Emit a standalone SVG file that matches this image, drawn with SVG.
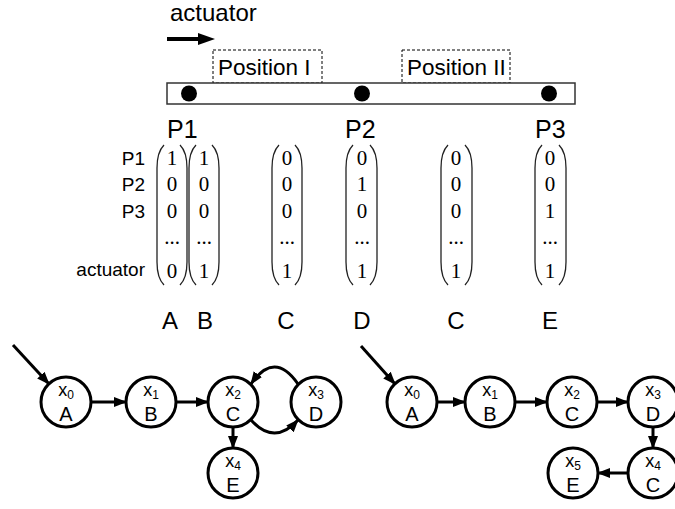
<svg xmlns="http://www.w3.org/2000/svg" width="675" height="509" viewBox="0 0 675 509">
<style>
.s{font-family:"Liberation Sans",Arial,sans-serif;fill:#000}
.m{font-family:"Liberation Serif","Times New Roman",serif;font-size:21px;text-anchor:middle;fill:#000}
.lbl{font-family:"Liberation Sans",Arial,sans-serif;font-size:19px;text-anchor:end}
.col{font-family:"Liberation Sans",Arial,sans-serif;font-size:24px;text-anchor:middle}
.par{fill:none;stroke:#222;stroke-width:1.3}
.node circle{fill:#fff;stroke:#000;stroke-width:3}
.node text{font-family:"Liberation Sans",Arial,sans-serif;text-anchor:middle}
.e{fill:none;stroke:#000;stroke-width:3;marker-end:url(#ah)}
.dash{fill:none;stroke:#000;stroke-width:1;stroke-dasharray:3,2}
</style>
<defs>
<marker id="ah" markerUnits="userSpaceOnUse" markerWidth="13" markerHeight="13" viewBox="0 0 13 13" refX="12" refY="6.5" orient="auto">
<path d="M0,1.5 L13,6.5 L0,11.5 Z" fill="#000"/>
</marker>
</defs>
<rect width="675" height="509" fill="#fff"/>

<g id="top">
<text class="s" x="170" y="21" font-size="24">actuator</text>
<line x1="167" y1="39" x2="200" y2="39" stroke="#000" stroke-width="4"/>
<polygon points="198,33 215,39 198,45" fill="#000"/>
<rect class="dash" x="213" y="50" width="109" height="33"/>
<rect class="dash" x="402" y="50" width="108" height="33"/>
<text class="s" x="218" y="75" font-size="22.5">Position I</text>
<text class="s" x="407" y="75" font-size="22.5">Position II</text>
<rect x="167" y="83" width="408" height="21" fill="#fff" stroke="#333" stroke-width="1.5"/>
<circle cx="189" cy="93.5" r="8"/>
<circle cx="362" cy="93.5" r="8"/>
<circle cx="549" cy="93.5" r="8"/>
<text class="s" x="167" y="138" font-size="25">P1</text>
<text class="s" x="345" y="138" font-size="25">P2</text>
<text class="s" x="535" y="138" font-size="25">P3</text>
</g>

<g id="row-labels">
<text class="lbl" x="145" y="165">P1</text>
<text class="lbl" x="145" y="191">P2</text>
<text class="lbl" x="145" y="218">P3</text>
<text class="lbl" x="145" y="276">actuator</text>
</g>

<g id="matrices">
<path class="par" d="M164,145 Q157,152 157,168 L157,262 Q157,278 164,285 M180,145 Q187,152 187,168 L187,262 Q187,278 180,285"/>
<text class="m" x="172" y="165">1</text><text class="m" x="172" y="191">0</text><text class="m" x="172" y="218">0</text><text class="m" x="172" y="244">...</text><text class="m" x="172" y="278">0</text>
<path class="par" d="M196,145 Q189,152 189,168 L189,262 Q189,278 196,285 M212,145 Q219,152 219,168 L219,262 Q219,278 212,285"/>
<text class="m" x="204" y="165">1</text><text class="m" x="204" y="191">0</text><text class="m" x="204" y="218">0</text><text class="m" x="204" y="244">...</text><text class="m" x="204" y="278">1</text>
<path class="par" d="M279,145 Q272,152 272,168 L272,262 Q272,278 279,285 M295,145 Q302,152 302,168 L302,262 Q302,278 295,285"/>
<text class="m" x="287" y="165">0</text><text class="m" x="287" y="191">0</text><text class="m" x="287" y="218">0</text><text class="m" x="287" y="244">...</text><text class="m" x="287" y="278">1</text>
<path class="par" d="M353,145 Q346,152 346,168 L346,262 Q346,278 353,285 M370,145 Q377,152 377,168 L377,262 Q377,278 370,285"/>
<text class="m" x="362" y="165">0</text><text class="m" x="362" y="191">1</text><text class="m" x="362" y="218">0</text><text class="m" x="362" y="244">...</text><text class="m" x="362" y="278">1</text>
<path class="par" d="M448,145 Q441,152 441,168 L441,262 Q441,278 448,285 M465,145 Q472,152 472,168 L472,262 Q472,278 465,285"/>
<text class="m" x="456" y="165">0</text><text class="m" x="456" y="191">0</text><text class="m" x="456" y="218">0</text><text class="m" x="456" y="244">...</text><text class="m" x="456" y="278">1</text>
<path class="par" d="M542,145 Q535,152 535,168 L535,262 Q535,278 542,285 M559,145 Q566,152 566,168 L566,262 Q566,278 559,285"/>
<text class="m" x="550" y="165">0</text><text class="m" x="550" y="191">0</text><text class="m" x="550" y="218">1</text><text class="m" x="550" y="244">...</text><text class="m" x="550" y="278">1</text>
</g>

<g id="col-labels">
<text class="col" x="170" y="329">A</text>
<text class="col" x="205" y="329">B</text>
<text class="col" x="286" y="329">C</text>
<text class="col" x="362" y="329">D</text>
<text class="col" x="456" y="329">C</text>
<text class="col" x="550" y="329">E</text>
</g>

<g id="connectors">
<line class="e" x1="13" y1="345" x2="49" y2="384"/>
<line class="e" x1="91" y1="402" x2="126" y2="402"/>
<line class="e" x1="176" y1="402" x2="208" y2="402"/>
<line class="e" x1="233" y1="427" x2="233" y2="448"/>
<path class="e" d="M251,420 Q274.5,446 298,420"/>
<path class="e" d="M298,384 Q274.5,350 251,384"/>
<line class="e" x1="361" y1="346" x2="395" y2="384"/>
<line class="e" x1="437" y1="402" x2="465" y2="402"/>
<line class="e" x1="515" y1="402" x2="547" y2="402"/>
<line class="e" x1="597" y1="402" x2="628" y2="402"/>
<line class="e" x1="653" y1="427" x2="653" y2="448"/>
<line class="e" x1="628" y1="473" x2="598" y2="473"/>
</g>

<g id="L-A" class="node"><circle cx="66" cy="402" r="25"/><text x="66" y="396" font-size="18">x<tspan font-size="12" dy="3">0</tspan></text><text x="66" y="421" font-size="20">A</text></g>
<g id="L-B" class="node"><circle cx="151" cy="402" r="25"/><text x="151" y="396" font-size="18">x<tspan font-size="12" dy="3">1</tspan></text><text x="151" y="421" font-size="20">B</text></g>
<g id="L-C" class="node"><circle cx="233" cy="402" r="25"/><text x="233" y="396" font-size="18">x<tspan font-size="12" dy="3">2</tspan></text><text x="233" y="421" font-size="20">C</text></g>
<g id="L-D" class="node"><circle cx="316" cy="402" r="25"/><text x="316" y="396" font-size="18">x<tspan font-size="12" dy="3">3</tspan></text><text x="316" y="421" font-size="20">D</text></g>
<g id="L-E" class="node"><circle cx="233" cy="473" r="25"/><text x="233" y="467" font-size="18">x<tspan font-size="12" dy="3">4</tspan></text><text x="233" y="492" font-size="20">E</text></g>

<g id="R-A" class="node"><circle cx="412" cy="402" r="25"/><text x="412" y="396" font-size="18">x<tspan font-size="12" dy="3">0</tspan></text><text x="412" y="421" font-size="20">A</text></g>
<g id="R-B" class="node"><circle cx="490" cy="402" r="25"/><text x="490" y="396" font-size="18">x<tspan font-size="12" dy="3">1</tspan></text><text x="490" y="421" font-size="20">B</text></g>
<g id="R-C" class="node"><circle cx="572" cy="402" r="25"/><text x="572" y="396" font-size="18">x<tspan font-size="12" dy="3">2</tspan></text><text x="572" y="421" font-size="20">C</text></g>
<g id="R-D" class="node"><circle cx="653" cy="402" r="25"/><text x="653" y="396" font-size="18">x<tspan font-size="12" dy="3">3</tspan></text><text x="653" y="421" font-size="20">D</text></g>
<g id="R-C2" class="node"><circle cx="653" cy="473" r="25"/><text x="653" y="467" font-size="18">x<tspan font-size="12" dy="3">4</tspan></text><text x="653" y="492" font-size="20">C</text></g>
<g id="R-E" class="node"><circle cx="573" cy="473" r="25"/><text x="573" y="467" font-size="18">x<tspan font-size="12" dy="3">5</tspan></text><text x="573" y="492" font-size="20">E</text></g>
</svg>
